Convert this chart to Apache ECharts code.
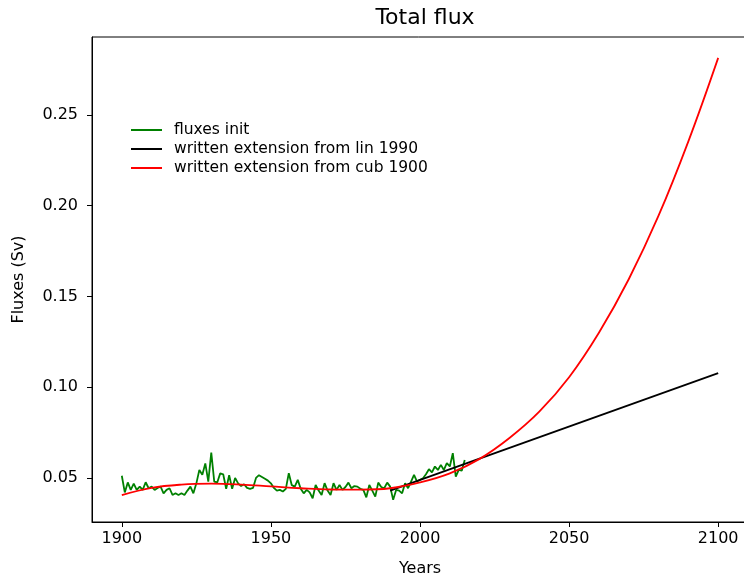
<!DOCTYPE html>
<html>
<head>
<meta charset="utf-8">
<script src="https://cdn.jsdelivr.net/npm/echarts@6/dist/echarts.min.js"></script>
<style>
html,body{margin:0;padding:0;background:#fff;}
#chart{width:744px;height:580px;}
</style>
</head>
<body>
<div id="chart"></div>
<script>
// ---- data ----
const fluxStartYear = 1900;
const fluxValues = [
  0.0512, 0.0420, 0.0475, 0.0434, 0.0468, 0.0434, 0.0452, 0.0434, 0.0476, 0.0443,
  0.0452, 0.0434, 0.0445, 0.0452, 0.0415, 0.0434, 0.0443, 0.0406, 0.0415, 0.0406,
  0.0415, 0.0406, 0.0430, 0.0452, 0.0415, 0.0470, 0.0544, 0.0517, 0.0580, 0.0480,
  0.0640, 0.0480, 0.0475, 0.0525, 0.0520, 0.0440, 0.0515, 0.0440, 0.0500, 0.0470,
  0.0455, 0.0465, 0.0445, 0.0440, 0.0445, 0.0500, 0.0515, 0.0505, 0.0495, 0.0485,
  0.0470, 0.0445, 0.0430, 0.0434, 0.0425, 0.0440, 0.0526, 0.0460, 0.0452, 0.0489,
  0.0440, 0.0415, 0.0434, 0.0420, 0.0388, 0.0461, 0.0430, 0.0406, 0.0471, 0.0430,
  0.0406, 0.0471, 0.0434, 0.0461, 0.0434, 0.0450, 0.0474, 0.0443, 0.0455, 0.0452,
  0.0440, 0.0434, 0.0393, 0.0461, 0.0430, 0.0397, 0.0474, 0.0450, 0.0443, 0.0474,
  0.0452, 0.0379, 0.0434, 0.0430, 0.0415, 0.0471, 0.0443, 0.0480, 0.0517, 0.0480,
  0.0490, 0.0498, 0.0520, 0.0548, 0.0530, 0.0563, 0.0544, 0.0572, 0.0544, 0.0581,
  0.0563, 0.0636, 0.0507, 0.0544, 0.0540, 0.0599
];
const linYears = [1990, 2100];
const linValues = [0.0430, 0.1078];
const cubYears = [1900, 1910, 1920, 1930, 1940, 1950, 1960, 1970, 1980, 1990, 2000,
                  2010, 2020, 2030, 2040, 2050, 2060, 2070, 2080, 2090, 2100];
const cubValues = [0.0405, 0.0445, 0.0463, 0.0468, 0.0463, 0.0453, 0.0443, 0.0436, 0.0435, 0.0443, 0.0475,
                   0.0525, 0.0605, 0.0720, 0.0865, 0.1055, 0.1300, 0.1595, 0.1945, 0.2355, 0.2815];
const xTicks = [1900, 1950, 2000, 2050, 2100];
const yTicks = [0.05, 0.10, 0.15, 0.20, 0.25];
const seriesNames = ['fluxes init', 'written extension from lin 1990', 'written extension from cub 1900'];

// ---- build ----
const fluxData = fluxValues.map((v, i) => [fluxStartYear + i, v]);
const linData = linYears.map((y, i) => [y, linValues[i]]);
const cubData = cubYears.map((y, i) => [y, cubValues[i]]);

const FONT = 'DejaVu Sans';
const chart = echarts.init(document.getElementById('chart'), null, {renderer: 'canvas'});
chart.setOption({
  animation: false,
  backgroundColor: '#fff',
  title: {
    text: 'Total flux',
    left: 420, top: 2, textAlign: 'center',
    textStyle: {fontFamily: FONT, fontSize: 22, fontWeight: 'normal', color: '#000'}
  },
  legend: {
    orient: 'vertical',
    left: 126, top: 117,
    icon: 'rect',
    itemWidth: 31, itemHeight: 2,
    itemGap: 3,
    textStyle: {fontFamily: FONT, fontSize: 15.5, color: '#000', padding: [0, 0, 0, 7]},
    data: seriesNames
  },
  grid: {
    left: 92, top: 37, width: 656, height: 485,
    outerBoundsMode: 'none', containLabel: false,
    show: true, borderColor: '#000', borderWidth: 1, backgroundColor: 'transparent'
  },
  xAxis: {
    type: 'value', min: 1890, max: 2110,
    name: 'Years', nameLocation: 'middle', nameGap: 39,
    nameTextStyle: {fontFamily: FONT, fontSize: 16, color: '#000'},
    axisLine: {show: true, lineStyle: {color: '#000', width: 1}},
    axisTick: {show: true, length: 5, lineStyle: {color: '#000'}, customValues: xTicks},
    axisLabel: {fontFamily: FONT, fontSize: 16, color: '#000', margin: 9, customValues: xTicks,
      formatter: v => String(v)},
    splitLine: {show: false}
  },
  yAxis: {
    type: 'value', min: 0.0257, max: 0.293,
    name: 'Fluxes (Sv)', nameLocation: 'middle', nameGap: 65,
    nameTextStyle: {fontFamily: FONT, fontSize: 16, color: '#000'},
    axisLine: {show: true, lineStyle: {color: '#000', width: 1}},
    axisTick: {show: true, length: 5, lineStyle: {color: '#000'}, customValues: yTicks},
    axisLabel: {fontFamily: FONT, fontSize: 16, color: '#000', margin: 14, customValues: yTicks,
      formatter: v => v.toFixed(2)},
    splitLine: {show: false}
  },
  series: [
    {name: seriesNames[0], type: 'line', data: fluxData, showSymbol: false, symbol: 'none',
     lineStyle: {color: '#008000', width: 1.8}, itemStyle: {color: '#008000'}, z: 3},
    {name: seriesNames[1], type: 'line', data: linData, showSymbol: false, symbol: 'none',
     lineStyle: {color: '#000000', width: 1.8}, itemStyle: {color: '#000000'}, z: 4},
    {name: seriesNames[2], type: 'line', data: cubData, showSymbol: false, symbol: 'none', smooth: 0.4,
     lineStyle: {color: '#ff0000', width: 1.8}, itemStyle: {color: '#ff0000'}, z: 5}
  ]
});
</script>
</body>
</html>
